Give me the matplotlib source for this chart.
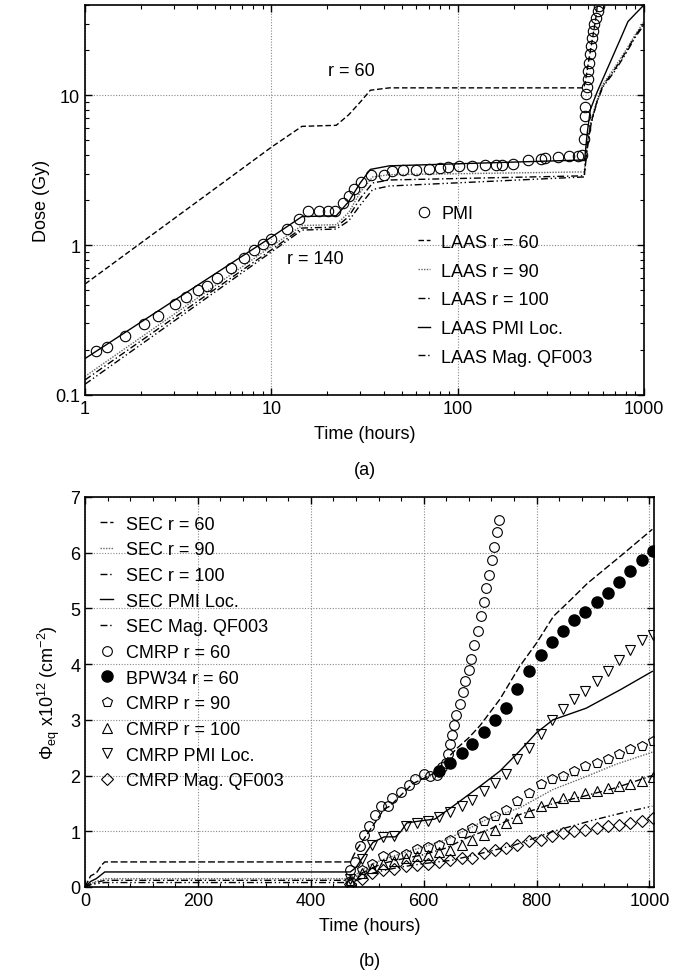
import matplotlib
matplotlib.use("Agg")
import matplotlib.pyplot as plt
from matplotlib.ticker import FixedLocator, NullFormatter, LogLocator

plt.rcParams['font.family'] = ['Liberation Sans', 'DejaVu Sans']
plt.rcParams['mathtext.fontset'] = 'custom'
plt.rcParams['mathtext.rm'] = 'Liberation Sans'
plt.rcParams['mathtext.it'] = 'Liberation Sans:italic'
FS = 13

# ---------------- Panel (a) data: Dose (Gy) vs time (hours), log-log
pmi_t = [1.14, 1.31, 1.64, 2.08, 2.47, 3.03, 3.49, 4.06, 4.51, 5.1, 6.04, 7.1, 8.1, 9.0, 10,
         12.1, 14, 15.8, 18, 20.2, 22, 24.2, 26.1, 27.9, 30.4, 34.2, 40.1, 44.6, 51, 60, 70,
         80, 89, 102, 119, 140, 160, 174, 198, 239, 280, 295, 347, 396, 441, 465,
         477, 481, 483, 485, 489, 493, 499, 503, 507, 514, 520, 528, 535, 542, 551, 563, 576]
pmi_d = [0.198, 0.208, 0.249, 0.297, 0.338, 0.404, 0.448, 0.5, 0.53, 0.6, 0.7, 0.82, 0.93, 1.02, 1.1,
         1.28, 1.5, 1.68, 1.7, 1.7, 1.7, 1.92, 2.13, 2.36, 2.62, 2.95, 2.95, 3.1, 3.15, 3.15, 3.2,
         3.25, 3.3, 3.35, 3.35, 3.4, 3.45, 3.45, 3.5, 3.7, 3.75, 3.8, 3.9, 3.95, 3.95, 4.0,
         5.1, 5.93, 7.28, 8.4, 10.2, 11.4, 12.8, 14.5, 16.5, 18.8, 21.3, 24.2, 26.8, 29.7, 33, 36.5, 39.4]

laas60_t = [1, 10, 14.6, 22.3, 26, 30, 34, 43, 475, 485, 495, 505, 520, 535, 550, 565]
laas60_d = [0.55, 4.5, 6.2, 6.3, 7.4, 9.0, 10.8, 11.2, 11.2, 12.5, 14.5, 17, 21, 26, 32, 42]

laas90_t = [1, 10, 14.6, 22.3, 26, 30, 35, 43, 478, 490, 505, 520, 540, 560, 600, 700, 800, 900, 1000]
laas90_d = [0.133, 0.98, 1.35, 1.37, 1.65, 2.25, 2.85, 2.95, 3.08, 4.2, 5.5, 6.7, 8.0, 9.3, 11.8, 15.5, 20, 25.5, 31]

laas100_t = [1, 10, 14.6, 22.3, 26, 30, 35, 43, 478, 490, 505, 520, 540, 560, 600, 700, 800, 900, 1000]
laas100_d = [0.126, 0.93, 1.3, 1.32, 1.55, 2.05, 2.6, 2.72, 2.9, 4.0, 5.3, 6.5, 7.8, 9.1, 11.5, 15, 19.5, 25, 30]

laaspmi_t = [1, 10, 14.6, 22.3, 26, 30, 34, 43, 480, 495, 515, 560, 650, 750, 820, 900, 1000]
laaspmi_d = [0.175, 1.13, 1.55, 1.57, 1.95, 2.6, 3.2, 3.38, 3.7, 5.5, 8.0, 10.5, 16, 24, 31, 35, 40]

laasmag_t = [1, 10, 14.6, 22.3, 26, 30, 35, 43, 478, 490, 505, 520, 540, 560, 600, 700, 800, 900, 1000]
laasmag_d = [0.118, 0.9, 1.26, 1.28, 1.45, 1.85, 2.35, 2.48, 2.85, 3.9, 5.2, 6.4, 7.7, 9.0, 11.3, 14.6, 19, 24.5, 29.5]

# ---------------- Panel (b) data: Phi_eq x1e12 vs time (hours)
sec60_t = [0, 10, 20, 30, 35, 470, 475, 480, 490, 500, 510, 520, 530, 540, 550, 560, 580, 600, 620,
           640, 660, 680, 700, 735, 770, 800, 830, 860, 890, 920, 950, 1005]
sec60_v = [0, 0.2, 0.25, 0.4, 0.45, 0.45, 0.55, 0.65, 0.8, 0.95, 1.1, 1.25, 1.4, 1.45, 1.55, 1.65, 1.85,
           1.95, 2.05, 2.29, 2.5, 2.68, 2.9, 3.37, 3.96, 4.38, 4.86, 5.15, 5.45, 5.7, 5.95, 6.42]

sec90_t = [0, 10, 20, 35, 470, 490, 510, 530, 560, 600, 640, 680, 711, 770, 829, 880, 940, 1005]
sec90_v = [0, 0.06, 0.1, 0.15, 0.15, 0.3, 0.42, 0.5, 0.6, 0.72, 0.85, 1.05, 1.21, 1.42, 1.75, 1.95, 2.2, 2.42]

sec100_t = [0, 10, 20, 35, 470, 490, 510, 530, 560, 600, 640, 680, 720, 770, 830, 880, 940, 1005]
sec100_v = [0, 0.05, 0.08, 0.12, 0.12, 0.25, 0.35, 0.43, 0.5, 0.58, 0.7, 0.9, 1.05, 1.3, 1.5, 1.62, 1.78, 2.0]

secpmi_t = [0, 10, 20, 35, 470, 480, 490, 500, 510, 530, 550, 560, 570, 590, 620, 652, 700, 735, 770,
            800, 829, 888, 950, 1005]
secpmi_v = [0, 0.1, 0.15, 0.27, 0.27, 0.35, 0.5, 0.65, 0.8, 0.9, 0.9, 1.0, 1.15, 1.18, 1.22, 1.45, 1.81,
            2.08, 2.44, 2.77, 3.0, 3.21, 3.55, 3.87]

secmag_t = [0, 10, 20, 35, 470, 490, 510, 530, 560, 600, 650, 700, 760, 830, 900, 960, 1005]
secmag_v = [0, 0.04, 0.06, 0.08, 0.08, 0.15, 0.25, 0.3, 0.36, 0.42, 0.48, 0.6, 0.75, 1.0, 1.2, 1.35, 1.45]

cmrp60_t = [470, 479, 487, 494, 503, 513, 525, 536, 544, 559, 574, 585, 601, 612, 624, 633, 639, 643,
            646, 650, 654, 658, 664, 669, 673, 681, 684, 690, 696, 701, 707, 711, 716, 721, 725, 730, 734]
cmrp60_v = [0.3, 0.45, 0.74, 0.93, 1.09, 1.29, 1.46, 1.46, 1.6, 1.7, 1.83, 1.93, 2.03, 2.0, 2.01, 2.15,
            2.22, 2.38, 2.57, 2.73, 2.9, 3.09, 3.28, 3.5, 3.7, 3.89, 4.1, 4.34, 4.6, 4.87, 5.12, 5.37,
            5.6, 5.87, 6.11, 6.37, 6.58]

bpw_t = [628, 646, 667, 685, 706, 726, 746, 766, 786, 807, 827, 847, 866, 885, 907, 927, 946, 966, 986, 1006]
bpw_v = [2.08, 2.23, 2.4, 2.56, 2.78, 2.99, 3.22, 3.56, 3.87, 4.16, 4.4, 4.6, 4.79, 4.93, 5.11, 5.28,
         5.47, 5.67, 5.87, 6.03]

cm_t = [470, 490, 508, 528, 548, 568, 588, 608, 628, 646, 667, 685, 706, 726, 746, 766, 786, 807,
        827, 847, 866, 885, 907, 927, 946, 966, 986, 1006]
cmrp90_v = [0.1, 0.3, 0.42, 0.55, 0.57, 0.6, 0.68, 0.72, 0.76, 0.85, 0.97, 1.06, 1.18, 1.27, 1.39,
            1.54, 1.69, 1.84, 1.93, 2.0, 2.08, 2.17, 2.23, 2.3, 2.38, 2.47, 2.53, 2.62]
cmrp100_v = [0.1, 0.25, 0.35, 0.42, 0.47, 0.52, 0.55, 0.58, 0.62, 0.67, 0.76, 0.85, 0.94, 1.03, 1.15,
             1.24, 1.34, 1.46, 1.52, 1.6, 1.64, 1.69, 1.72, 1.78, 1.81, 1.84, 1.9, 1.98]
cmrppmi_v = [0.15, 0.5, 0.75, 0.9, 0.92, 1.1, 1.15, 1.18, 1.25, 1.34, 1.45, 1.57, 1.72, 1.87, 2.02,
             2.29, 2.5, 2.75, 3.0, 3.2, 3.37, 3.51, 3.69, 3.87, 4.08, 4.26, 4.43, 4.53]
cmrpmag_v = [0.05, 0.15, 0.25, 0.3, 0.33, 0.38, 0.4, 0.42, 0.44, 0.48, 0.52, 0.52, 0.61, 0.67, 0.7,
             0.76, 0.82, 0.85, 0.92, 0.97, 1.0, 1.03, 1.06, 1.09, 1.12, 1.15, 1.18, 1.24]

# ---------------- styles
DASH = (0, (4, 2))
DOT = (0, (1, 1))
DASHDOT = (0, (5, 2, 1, 2))
DASHDOTDOT = (0, (5, 2, 1, 2, 1, 2))
GRID = dict(color='#888888', linestyle=(0, (1, 1.5)), linewidth=0.8)

W, H = 676, 979
fig = plt.figure(figsize=(W / 100, H / 100), dpi=100)

def frac(left, top, right, bottom):
    return [left / W, 1 - bottom / H, (right - left) / W, (bottom - top) / H]

# ================= Panel (a)
ax1 = fig.add_axes(frac(85, 6, 644, 396))
ax1.set_xscale('log')
ax1.set_yscale('log')
ax1.set_xlim(1, 1000)
ax1.set_ylim(0.1, 40)
lw = 1.0
ax1.plot(pmi_t, pmi_d, linestyle='none', marker='o', ms=7.5, mfc='none', mec='black', mew=0.8, label='PMI', zorder=3)
ax1.plot(laas60_t, laas60_d, color='black', lw=lw, linestyle=DASH, label='LAAS r = 60')
ax1.plot(laas90_t, laas90_d, color='#666666', lw=lw, linestyle=DOT, label='LAAS r = 90')
ax1.plot(laas100_t, laas100_d, color='black', lw=lw, linestyle=DASHDOT, label='LAAS r = 100')
ax1.plot(laaspmi_t, laaspmi_d, color='black', lw=lw, linestyle='-', label='LAAS PMI Loc.')
ax1.plot(laasmag_t, laasmag_d, color='black', lw=lw, linestyle=DASHDOTDOT, label='LAAS Mag. QF003')

ax1.xaxis.set_major_locator(FixedLocator([1, 10, 100, 1000]))
ax1.set_xticklabels(['1', '10', '100', '1000'])
ax1.yaxis.set_major_locator(FixedLocator([0.1, 1, 10]))
ax1.set_yticklabels(['0.1', '1', '10'])
ax1.xaxis.set_minor_locator(LogLocator(base=10, subs=range(2, 10)))
ax1.yaxis.set_minor_locator(LogLocator(base=10, subs=range(2, 10)))
ax1.xaxis.set_minor_formatter(NullFormatter())
ax1.yaxis.set_minor_formatter(NullFormatter())
ax1.grid(True, which='major', **GRID)
ax1.set_xlabel('Time (hours)', fontsize=FS, labelpad=6)
ax1.set_ylabel('Dose (Gy)', fontsize=FS, labelpad=4)
ax1.text(27, 14.7, 'r = 60', fontsize=FS, ha='center', va='center')
ax1.text(17.3, 0.81, 'r = 140', fontsize=FS, ha='center', va='center')
ax1.legend(loc='upper left', bbox_to_anchor=(0.595, 0.487), frameon=False, fontsize=FS,
           handlelength=0.7, handletextpad=0.6, labelspacing=0.65, borderpad=0, borderaxespad=0)
fig.text((85 + 644) / 2 / W, 1 - 471 / H, '(a)', fontsize=FS, ha='center', va='center')

# ================= Panel (b)
ax2 = fig.add_axes(frac(85, 498, 654, 888))
ax2.set_xlim(0, 1008)
ax2.set_ylim(0, 7)
ax2.plot(sec60_t, sec60_v, color='black', lw=lw, linestyle=(0, (5, 2)), label='SEC r = 60')
ax2.plot(sec90_t, sec90_v, color='#666666', lw=lw, linestyle=DOT, label='SEC r = 90')
ax2.plot(sec100_t, sec100_v, color='black', lw=lw, linestyle=DASHDOT, label='SEC r = 100')
ax2.plot(secpmi_t, secpmi_v, color='black', lw=lw, linestyle='-', label='SEC PMI Loc.')
ax2.plot(secmag_t, secmag_v, color='black', lw=lw, linestyle=DASHDOTDOT, label='SEC Mag. QF003')
mk = dict(linestyle='none', mfc='none', mec='black', mew=0.8)
ax2.plot(cmrp60_t, cmrp60_v, marker='o', ms=7, label='CMRP r = 60', **mk)
ax2.plot(bpw_t, bpw_v, linestyle='none', marker='o', ms=8, color='black', label='BPW34 r = 60')
ax2.plot(cm_t, cmrp90_v, marker='p', ms=7.5, label='CMRP r = 90', **mk)
ax2.plot(cm_t, cmrp100_v, marker='^', ms=7, label='CMRP r = 100', **mk)
ax2.plot(cm_t, cmrppmi_v, marker='v', ms=7, label='CMRP PMI Loc.', **mk)
ax2.plot(cm_t, cmrpmag_v, marker='D', ms=6, label='CMRP Mag. QF003', **mk)

ax2.set_xticks([0, 200, 400, 600, 800, 1000])
ax2.set_xticks(list(range(40, 1001, 40)), minor=True)
ax2.set_yticks(list(range(0, 8)))
ax2.grid(True, which='major', **GRID)
ax2.set_xlabel('Time (hours)', fontsize=FS, labelpad=6)
ax2.set_ylabel(r'$\mathregular{\Phi_{eq}}$ x10$^{\mathregular{12}}$ (cm$^{\mathregular{-2}}$)', fontsize=FS, labelpad=6)
ax2.legend(loc='upper left', bbox_to_anchor=(0.027, 0.952), frameon=False, fontsize=FS,
           handlelength=0.7, handletextpad=0.7, labelspacing=0.48, borderpad=0, borderaxespad=0)
fig.text((85 + 654) / 2 / W, 1 - 962 / H, '(b)', fontsize=FS, ha='center', va='center')

for ax in (ax1, ax2):
    ax.tick_params(which='both', direction='in', top=True, right=True, labelsize=FS)
    ax.tick_params(which='major', length=5, width=1)
    ax.tick_params(which='minor', length=3, width=0.8)
    for s in ax.spines.values():
        s.set_linewidth(1.2)
    ax.set_axisbelow(True)

fig.savefig('out.png', dpi=100)
